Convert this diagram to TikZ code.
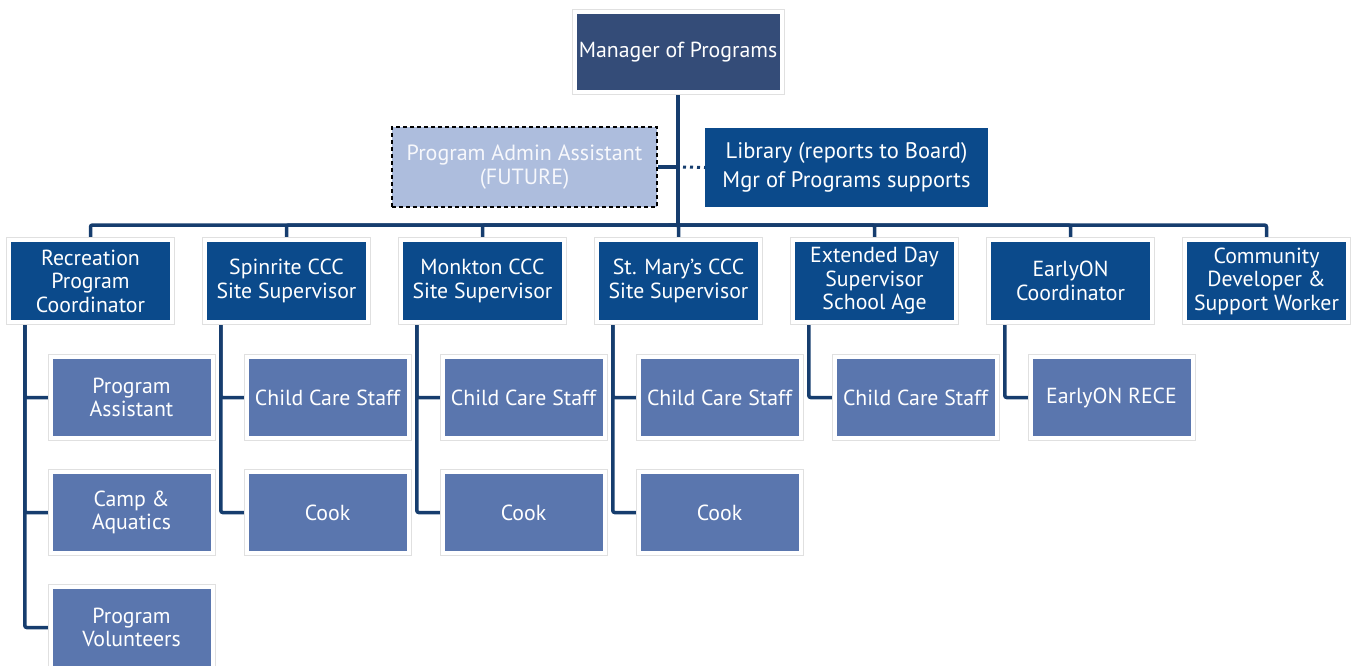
\documentclass[tikz,border=0pt]{standalone}
\usepackage{fontspec}
\setmainfont{PT Sans}
\usetikzlibrary{calc,backgrounds}
\definecolor{mgrblue}{HTML}{344C78}
\definecolor{headblue}{HTML}{0B4A8B}
\definecolor{staffblue}{HTML}{5A76AE}
\definecolor{futureblue}{HTML}{ADBDDD}
\definecolor{linkblue}{HTML}{163D6E}
\tikzset{
  box/.style={align=center, text=white, inner sep=0pt, font=\fontsize{21.8}{23.5}\selectfont},
  framed/.style={box, preaction={draw=black!12, line width=10pt}, preaction={draw=white, line width=8pt}},
  head/.style={framed, fill=headblue, minimum width=159pt, minimum height=78pt},
  staff/.style={framed, fill=staffblue, minimum width=158pt, minimum height=77pt},
  link/.style={draw=linkblue, line width=3.5pt, rounded corners=2pt},
}
\begin{document}
\begin{tikzpicture}[x=1pt, y=-1pt]
\useasboundingbox (0,0) rectangle (1355,665);
\node[framed, fill=mgrblue, minimum width=203pt, minimum height=76pt] (mgr) at (678,52) {Manager of Programs};
\node[box, fill=futureblue, text=white!90!futureblue, draw=black, line width=1.3pt, dash pattern=on 4pt off 3pt,
  minimum width=265pt, minimum height=80pt, font=\fontsize{22}{23.5}\selectfont] (admin) at (524.5,167) {Program Admin Assistant\\(FUTURE)};
\node[box, fill=headblue, minimum width=283pt, minimum height=79pt, font=\fontsize{22.5}{29}\selectfont] (lib) at (846.5,167.5)
  {Library (reports to Board)\\Mgr of Programs supports};
\foreach \name/\txt [count=\i from 0] in {
  rec/{Recreation\\Program\\Coordinator},
  spin/{Spinrite CCC\\Site Supervisor},
  monk/{Monkton CCC\\Site Supervisor},
  mary/{St. Mary’s CCC\\Site Supervisor},
  ext/{Extended Day\\Supervisor\\School Age},
  early/{EarlyON\\Coordinator},
  comm/{Community\\Developer \&\\Support Worker}}
  \node[head] (\name) at (90.5+196*\i, 281) {\txt};
\foreach \c/\p/\r/\txt in {
  rec1/rec/0/{Program\\Assistant}, rec2/rec/1/{Camp \&\\Aquatics}, rec3/rec/2/{Program\\Volunteers},
  spin1/spin/0/Child Care Staff, spin2/spin/1/Cook,
  monk1/monk/0/Child Care Staff, monk2/monk/1/Cook,
  mary1/mary/0/Child Care Staff, mary2/mary/1/Cook,
  ext1/ext/0/Child Care Staff, early1/early/0/EarlyON RECE}
  \node[staff] (\c) at ($(\p)+(41,116.5+115*\r)$) {\txt};
\coordinate (bar) at (678,225);
\begin{pgfonlayer}{background}
\draw[link] (mgr.south) -- (mgr.south |- bar);
\draw[link] (rec.north) |- (bar) -| (comm.north);
\foreach \name in {spin,monk,mary,ext,early}
  \draw[link] (\name.north) |- (bar);
\draw[link] (admin.east) -- (admin.east -| mgr.south);
\draw[linkblue, line width=3pt, dash pattern=on 3pt off 4pt] ($(admin.east -| mgr.south)+(5,0)$) -- (lib.west);
\foreach \c/\p in {rec1/rec, rec2/rec, rec3/rec, spin1/spin, spin2/spin, monk1/monk, monk2/monk,
  mary1/mary, mary2/mary, ext1/ext, early1/early}
  \draw[link] (\p.south west) ++(14,0) |- (\c.west);
\end{pgfonlayer}
\end{tikzpicture}
\end{document}
